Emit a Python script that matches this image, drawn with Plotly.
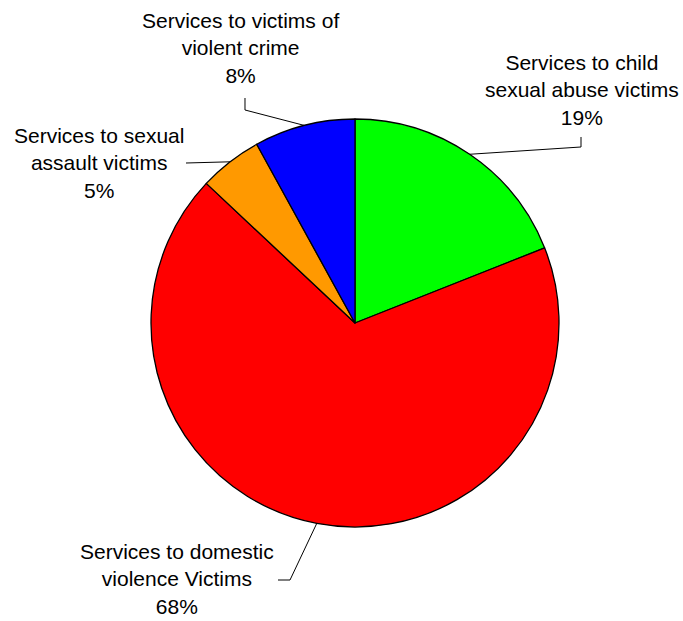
import math
import plotly.graph_objects as go

# Share of funding by service type (percent)
categories = [
    "Services to child<br>sexual abuse victims",
    "Services to domestic<br>violence Victims",
    "Services to sexual<br>assault victims",
    "Services to victims of<br>violent crime",
]
values = [19, 68, 5, 8]
colors = ["#00FF00", "#FF0000", "#FF9900", "#0000FF"]

W, H = 683, 621
CX, CY, R = 355, 323, 204  # pie centre and radius in pixels

# label block centres and leader-line elbows (pixels)
label_pos = [(582, 90), (177, 579), (99, 163), (240, 48)]
elbows = [
    [(581, 137), (581, 147)],
    [(278, 580), (290, 580)],
    [(186, 163)],
    [(245, 98), (245, 110)],
]


def px(x):
    return x / W


def py(y):
    return 1 - y / H


fig = go.Figure(
    go.Pie(
        labels=[c.replace("<br>", " ") for c in categories],
        values=values,
        marker=dict(colors=colors, line=dict(color="#000000", width=1.3)),
        sort=False,
        direction="clockwise",
        rotation=0,
        textinfo="none",
        hoverinfo="none",
        showlegend=False,
        domain=dict(x=[px(CX - R), px(CX + R)], y=[py(CY + R), py(CY - R)]),
    )
)

total = sum(values)
shapes = []
annotations = []
cum = 0
for cat, val, (lx, ly), elb in zip(categories, values, label_pos, elbows):
    mid = (cum + val / 2) / total * 2 * math.pi
    cum += val
    ex = CX + R * math.sin(mid)
    ey = CY - R * math.cos(mid)
    pts = elb + [(ex, ey)]
    path = "M " + " L ".join(f"{px(x):.5f},{py(y):.5f}" for x, y in pts)
    shapes.append(
        dict(type="path", xref="paper", yref="paper", path=path,
             line=dict(color="#000000", width=1))
    )
    pct = round(val / total * 100)
    annotations.append(
        dict(
            text=f"{cat}<br>{pct}%",
            x=px(lx), y=py(ly), xref="paper", yref="paper",
            xanchor="center", yanchor="middle", showarrow=False,
            align="center",
            font=dict(family="Liberation Sans, Arial, sans-serif", size=21, color="#000000"),
        )
    )

fig.update_layout(
    width=W, height=H,
    margin=dict(l=0, r=0, t=0, b=0),
    paper_bgcolor="#FFFFFF",
    plot_bgcolor="#FFFFFF",
    shapes=shapes,
    annotations=annotations,
)

fig.write_html("out.html")
